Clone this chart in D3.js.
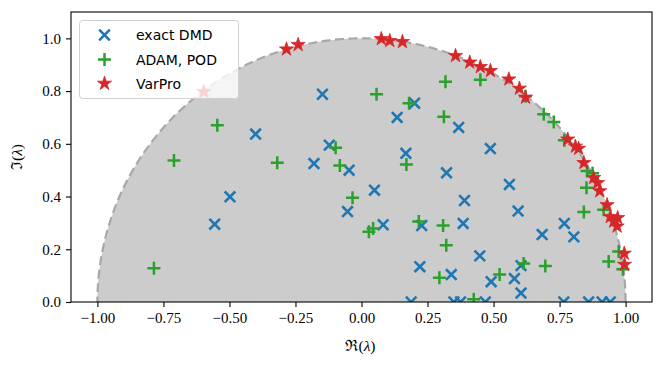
<!DOCTYPE html>
<meta charset="utf-8">
<style>
body { margin: 0; background: #fff; }
svg { display: block; }
.tick text { font: 15px "Liberation Serif", "DejaVu Serif", serif; }
.legend text { font: 14px "DejaVu Sans", sans-serif; }
.axlabel { font: 15.5px "Liberation Serif", "DejaVu Serif", serif; }
</style>
<svg width="664" height="367"></svg>
<script src="https://cdnjs.cloudflare.com/ajax/libs/d3/7.8.5/d3.min.js"></script>
<script>

// eigenvalues: [re, im]
var exactDMD = [
  [-0.556,0.295], [-0.498,0.399], [-0.401,0.637], [-0.180,0.525], [-0.148,0.788],
  [-0.122,0.595], [-0.053,0.343], [-0.047,0.500], [0.049,0.424], [0.082,0.293],
  [0.135,0.700], [0.168,0.564], [0.201,0.754], [0.221,0.134], [0.228,0.290],
  [0.188,0.0], [0.322,0.490], [0.340,0.104], [0.350,0.0], [0.375,0.0],
  [0.368,0.662], [0.390,0.385], [0.385,0.298], [0.448,0.175], [0.469,0.0],
  [0.488,0.582], [0.491,0.077], [0.560,0.446], [0.579,0.089], [0.593,0.345],
  [0.604,0.138], [0.604,0.034], [0.684,0.256], [0.766,0.0], [0.768,0.298],
  [0.804,0.247], [0.860,0.0], [0.911,0.0], [0.942,0.0]
];

var adamPOD = [
  [-0.786,0.128], [-0.710,0.537], [-0.546,0.670], [-0.319,0.528], [-0.098,0.585],
  [-0.082,0.518], [-0.034,0.395], [0.028,0.266], [0.044,0.279], [0.057,0.788],
  [0.170,0.522], [0.180,0.754], [0.217,0.305], [0.295,0.092], [0.309,0.290],
  [0.312,0.703], [0.318,0.835], [0.321,0.215], [0.425,0.010], [0.450,0.843],
  [0.523,0.104], [0.614,0.146], [0.621,0.780], [0.690,0.712], [0.696,0.137],
  [0.728,0.683], [0.768,0.614], [0.842,0.341], [0.852,0.433], [0.854,0.497],
  [0.875,0.488], [0.917,0.350], [0.936,0.154], [0.974,0.192], [0.990,0.124]
];

var varPro = [
  [-0.597,0.797], [-0.284,0.959], [-0.240,0.976], [0.075,0.998], [0.107,0.991],
  [0.155,0.987], [0.356,0.934], [0.410,0.909], [0.450,0.892], [0.488,0.877],
  [0.558,0.845], [0.598,0.810], [0.621,0.776], [0.781,0.617], [0.810,0.590],
  [0.822,0.582], [0.842,0.528], [0.879,0.471], [0.894,0.452], [0.902,0.421],
  [0.930,0.368], [0.942,0.323], [0.955,0.306], [0.970,0.319], [0.968,0.287],
  [0.995,0.184], [0.996,0.142]
];

var xTicks = [-1.0, -0.75, -0.5, -0.25, 0.0, 0.25, 0.5, 0.75, 1.0];
var yTicks = [0.0, 0.2, 0.4, 0.6, 0.8, 1.0];
var labels = ["exact DMD", "ADAM, POD", "VarPro"];

var svg = d3.select("svg");
var axL = 71, axR = 652, axT = 12, axB = 302;

var x = d3.scaleLinear().domain([-1.1, 1.1]).range([axL, axR]);
var y = d3.scaleLinear().domain([0, 1.1]).range([axB, axT]);

svg.append("defs").append("clipPath").attr("id", "ax")
  .append("rect").attr("x", axL).attr("y", axT)
  .attr("width", axR - axL).attr("height", axB - axT);

var g = svg.append("g").attr("clip-path", "url(#ax)");

// unit circle (upper half)
var ang = d3.range(0, 181).map(function(d) { return d * Math.PI / 180; });
var circ = d3.line()
  .x(function(a) { return x(Math.cos(a)); })
  .y(function(a) { return y(Math.sin(a)); });
g.append("path")
  .attr("d", circ(ang) + "Z")
  .attr("fill", "#cccccc")
  .attr("stroke", "none");
g.append("path")
  .attr("d", circ(ang))
  .attr("fill", "none")
  .attr("stroke", "#a8a8a8")
  .attr("stroke-width", 2.2)
  .attr("stroke-dasharray", "9,4.5");

var s = 5.3;
function xMark(px, py) {
  return "M" + (px - s) + "," + (py - s) + "L" + (px + s) + "," + (py + s) +
         "M" + (px - s) + "," + (py + s) + "L" + (px + s) + "," + (py - s);
}
function plusMark(px, py) {
  var r = 6.5;
  return "M" + (px - r) + "," + py + "L" + (px + r) + "," + py +
         "M" + px + "," + (py - r) + "L" + px + "," + (py + r);
}
var star = d3.symbol().type(d3.symbolStar).size(62);

g.selectAll(".dmd").data(exactDMD).enter().append("path")
  .attr("d", function(d) { return xMark(x(d[0]), y(d[1])); })
  .attr("stroke", "#1f77b4").attr("stroke-width", 2.6).attr("fill", "none");

g.selectAll(".pod").data(adamPOD).enter().append("path")
  .attr("d", function(d) { return plusMark(x(d[0]), y(d[1])); })
  .attr("stroke", "#2ca02c").attr("stroke-width", 2.5).attr("fill", "none");

g.selectAll(".vp").data(varPro).enter().append("path")
  .attr("d", star)
  .attr("transform", function(d) { return "translate(" + x(d[0]) + "," + y(d[1]) + ")"; })
  .attr("fill", "#d62728").attr("stroke", "#d62728").attr("stroke-width", 0.8);

// axes
var xAxis = svg.append("g").attr("transform", "translate(0," + axB + ")")
  .call(d3.axisBottom(x).tickValues(xTicks).tickSize(5).tickPadding(5)
    .tickFormat(function(d) { return d3.format(".2f")(d).replace("-", "\u2212"); }));
var yAxis = svg.append("g").attr("transform", "translate(" + axL + ",0)")
  .call(d3.axisLeft(y).tickValues(yTicks).tickSize(5).tickPadding(5)
    .tickFormat(function(d) { return d3.format(".1f")(d); }));
[xAxis, yAxis].forEach(function(a) {
  a.select(".domain").remove();
  a.selectAll(".tick line").attr("stroke", "#000").attr("stroke-width", 1.1);
  a.selectAll(".tick text").attr("fill", "#000");
});

svg.append("rect")
  .attr("x", axL).attr("y", axT)
  .attr("width", axR - axL).attr("height", axB - axT)
  .attr("fill", "none").attr("stroke", "#000").attr("stroke-width", 1.1);

svg.append("text").attr("class", "axlabel")
  .attr("x", (axL + axR) / 2 - 1).attr("y", 351)
  .attr("text-anchor", "middle")
  .html("\u211C(<tspan font-style='italic'>\u03BB</tspan>)");

svg.append("text").attr("class", "axlabel")
  .attr("transform", "translate(22," + ((axT + axB) / 2) + ") rotate(-90)")
  .attr("text-anchor", "middle")
  .html("\u2111(<tspan font-style='italic'>\u03BB</tspan>)");

// legend
var leg = svg.append("g").attr("class", "legend");
leg.append("rect")
  .attr("x", 79.5).attr("y", 20.5).attr("width", 159).attr("height", 78)
  .attr("rx", 3).attr("fill", "#fff").attr("fill-opacity", 0.8)
  .attr("stroke", "#d0d0d0").attr("stroke-width", 1);

var rows = [35, 59.5, 83.5];
leg.append("path").attr("d", xMark(104.5, rows[0]))
  .attr("stroke", "#1f77b4").attr("stroke-width", 2.6);
leg.append("path").attr("d", plusMark(104.5, rows[1]))
  .attr("stroke", "#2ca02c").attr("stroke-width", 2.5);
leg.append("path").attr("d", star)
  .attr("transform", "translate(104.5," + rows[2] + ")")
  .attr("fill", "#d62728").attr("stroke", "#d62728").attr("stroke-width", 0.8);

leg.selectAll("text.lab").data(labels).enter().append("text")
  .attr("x", 136).attr("y", function(d, i) { return rows[i] + 5; })
  .attr("fill", "#000")
  .text(function(d) { return d; });

</script>
